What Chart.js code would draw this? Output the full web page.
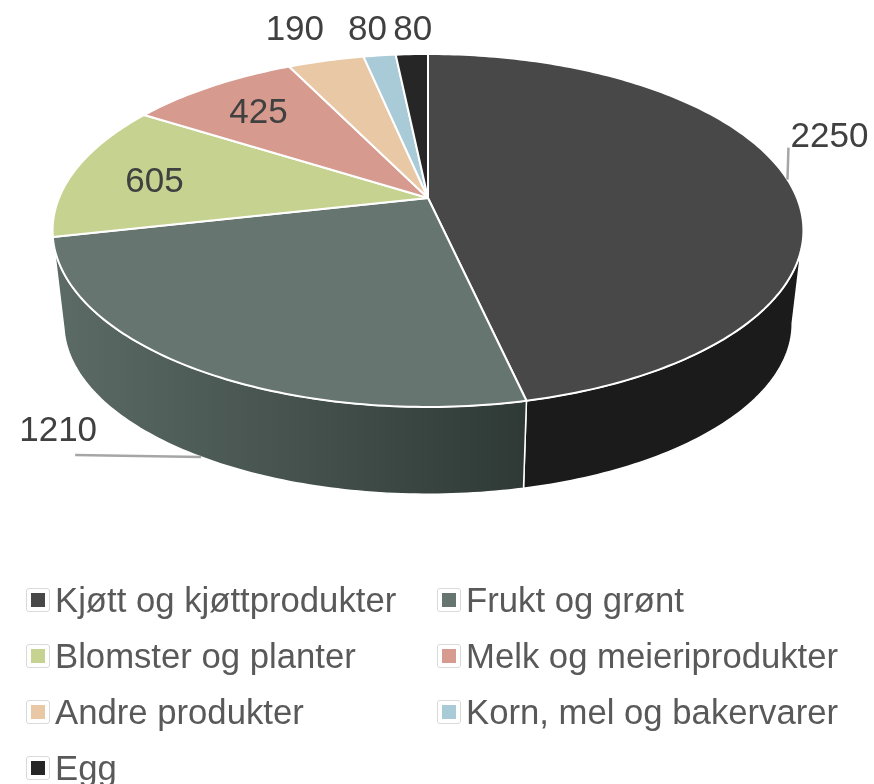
<!DOCTYPE html>
<html>
<head>
<meta charset="utf-8">
<script src="https://cdn.jsdelivr.net/npm/chart.js@4"></script>
<style>
    html, body { margin: 0; background: #fff; }
    #wrap { position: relative; width: 874px; height: 784px; overflow: hidden; filter: blur(0.5px); }
    #pie { position: absolute; left: 0; top: 0; }
    #legend {
        position: absolute; left: 26px; top: 572px;
        display: grid; grid-template-columns: 411px 410px; grid-auto-rows: 56px;
        font: 34.7px "Liberation Sans", Arial, sans-serif; color: #595959;
    }
    #legend div { display: flex; align-items: center; white-space: nowrap; }
    #legend i {
        box-sizing: border-box; width: 24px; height: 24px; margin-right: 5px;
        border: 1px solid #d9d9d9; border-radius: 3px; background: #fff;
        display: flex; align-items: center; justify-content: center; flex: none;
    }
    #legend b { display: block; width: 14px; height: 14px; }
</style>
</head>
<body>
<div id="wrap">
    <canvas id="pie" width="874" height="784"></canvas>
    <div id="legend"></div>
</div>
<script>
var categories = ['Kjøtt og kjøttprodukter', 'Frukt og grønt', 'Blomster og planter', 'Melk og meieriprodukter', 'Andre produkter', 'Korn, mel og bakervarer', 'Egg'];
var values = [2250, 1210, 605, 425, 190, 80, 80];
var colors = ['#484848', '#66756f', '#c6d28f', '#d69a8f', '#e9c8a6', '#a9cbd8', '#262626'];

// wall shading, left to right, only the two front slices show a wall
var wallColors = [['#1b1b1b', '#1b1b1b'], ['#5b6a64', '#2f3a37']];

// text offset from the rim point at the middle of each slice
var labelOffsets = [[42, -42], [-143, -26], [79, 13], [47, 27], [-31, -30], [-12, -25], [1, -24]];
var leaderEnds = [[1, -32], [-126, -2]];

// perspective of the two discs, k is the tilt
var k = 0.184;
var topDisc = { x: 428, y: 198, a: 369, b: 170.5 };
var bottomDisc = { x: 428, y: 292, a: 358, b: 165 };

function project(disc, angle) {
    var u = Math.cos(angle), v = Math.sin(angle);
    var w = 1 - k * v;
    return { x: disc.x + disc.a * u / w, y: disc.y + disc.b * v / w };
}

function arcTo(ctx, disc, from, to) {
    var steps = Math.max(2, Math.ceil(Math.abs(to - from) * 60));
    for (var i = 0; i <= steps; i++) {
        var p = project(disc, from + (to - from) * i / steps);
        ctx.lineTo(p.x, p.y);
    }
}

var pie3d = {
    id: 'pie3d',
    // the library's arcs give the angles, they just get drawn on a tilted disc
    beforeDatasetsDraw: function(chart) {
        var ctx = chart.ctx;
        var arcs = chart.getDatasetMeta(0).data;
        var side = Math.asin(k);

        ctx.save();
        ctx.lineJoin = 'round';
        ctx.strokeStyle = '#fff';

        // walls
        arcs.forEach(function(arc, i) {
            if (!wallColors[i]) return;
            var from = Math.max(arc.startAngle, side);
            var to = Math.min(arc.endAngle, Math.PI - side);
            var right = project(bottomDisc, from), left = project(bottomDisc, to);
            var grad = ctx.createLinearGradient(left.x, 0, right.x, 0);
            grad.addColorStop(0, wallColors[i][0]);
            grad.addColorStop(1, wallColors[i][1]);
            ctx.beginPath();
            arcTo(ctx, topDisc, from, to);
            arcTo(ctx, bottomDisc, to, from);
            ctx.closePath();
            ctx.fillStyle = grad;
            ctx.fill();
            ctx.lineWidth = 1.5;
            ctx.stroke();
        });

        // top of the pie
        arcs.forEach(function(arc, i) {
            ctx.beginPath();
            ctx.moveTo(topDisc.x, topDisc.y);
            arcTo(ctx, topDisc, arc.startAngle, arc.endAngle);
            ctx.closePath();
            ctx.fillStyle = colors[i];
            ctx.fill();
            ctx.lineWidth = 2;
            ctx.stroke();
        });

        // leader lines and value labels
        ctx.strokeStyle = '#a6a6a6';
        ctx.lineWidth = 2.5;
        ctx.fillStyle = '#404040';
        ctx.font = '35px "Liberation Sans", Arial, sans-serif';
        ctx.textAlign = 'center';
        ctx.textBaseline = 'middle';
        arcs.forEach(function(arc, i) {
            var mid = (arc.startAngle + arc.endAngle) / 2;
            // the big front slice label hangs off the lower rim
            var p = project(i === 1 ? bottomDisc : topDisc, mid);
            if (leaderEnds[i]) {
                ctx.beginPath();
                ctx.moveTo(p.x, p.y);
                ctx.lineTo(p.x + leaderEnds[i][0], p.y + leaderEnds[i][1]);
                ctx.stroke();
            }
            ctx.fillText(values[i], p.x + labelOffsets[i][0], p.y + labelOffsets[i][1]);
        });
        ctx.restore();
        return false;
    }
};

var ctx = document.getElementById('pie').getContext('2d');
var myChart = new Chart(ctx, {
    type: 'pie',
    data: {
        labels: categories,
        datasets: [{
            data: values,
            backgroundColor: colors,
            borderColor: '#fff',
            borderWidth: 2
        }]
    },
    options: {
        responsive: false,
        animation: false,
        plugins: {
            legend: { display: false },
            tooltip: { enabled: false }
        }
    },
    plugins: [pie3d]
});

// legend in two columns
var legend = document.getElementById('legend');
categories.forEach(function(name, i) {
    var row = document.createElement('div');
    var box = document.createElement('i');
    var fill = document.createElement('b');
    fill.style.background = colors[i];
    box.appendChild(fill);
    row.appendChild(box);
    row.appendChild(document.createTextNode(name));
    legend.appendChild(row);
});
</script>
</body>
</html>
